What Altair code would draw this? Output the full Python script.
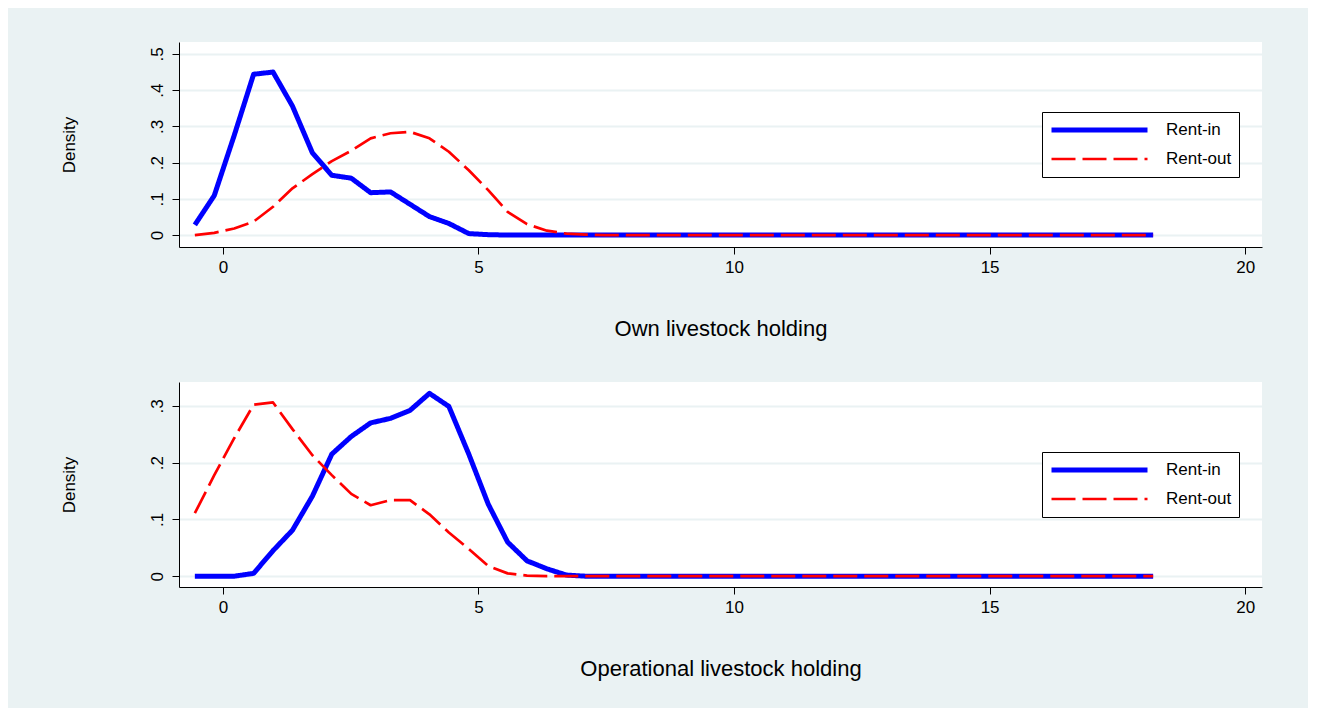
import altair as alt
import pandas as pd

# kernel-density evaluation grid (50 points)
x_grid = [-0.55, -0.17, 0.22, 0.60, 0.98, 1.36, 1.75, 2.13, 2.51, 2.89,
          3.28, 3.66, 4.04, 4.42, 4.81, 5.19, 5.57, 5.95, 6.34, 6.72,
          7.10, 7.49, 7.87, 8.25, 8.63, 9.02, 9.40, 9.78, 10.16, 10.55,
          10.93, 11.31, 11.70, 12.08, 12.46, 12.84, 13.23, 13.61, 13.99, 14.37,
          14.76, 15.14, 15.52, 15.91, 16.29, 16.67, 17.05, 17.44, 17.82, 18.20]

# Own livestock holding
own_rent_in = [0.028, 0.109, 0.275, 0.444, 0.450, 0.356, 0.227, 0.165, 0.157, 0.117,
               0.119, 0.085, 0.051, 0.032, 0.004, 0.001, 0.0, 0.0, 0.0, 0.0,
               0.0, 0.0, 0.0, 0.0, 0.0, 0.0, 0.0, 0.0, 0.0, 0.0,
               0.0, 0.0, 0.0, 0.0, 0.0, 0.0, 0.0, 0.0, 0.0, 0.0,
               0.0, 0.0, 0.0, 0.0, 0.0, 0.0, 0.0, 0.0, 0.0, 0.0]
own_rent_out = [0.000, 0.006, 0.018, 0.037, 0.078, 0.129, 0.168, 0.204, 0.233, 0.267,
                0.281, 0.285, 0.267, 0.230, 0.179, 0.124, 0.064, 0.030, 0.012, 0.004,
                0.001, 0.0, 0.0, 0.0, 0.0, 0.0, 0.0, 0.0, 0.0, 0.0,
                0.0, 0.0, 0.0, 0.0, 0.0, 0.0, 0.0, 0.0, 0.0, 0.0,
                0.0, 0.0, 0.0, 0.0, 0.0, 0.0, 0.0, 0.0, 0.0, 0.0]

# Operational livestock holding
op_rent_in = [0.0, 0.0, 0.0, 0.005, 0.045, 0.081, 0.141, 0.215, 0.246, 0.270,
              0.278, 0.292, 0.322, 0.299, 0.215, 0.127, 0.060, 0.027, 0.013, 0.002,
              0.0, 0.0, 0.0, 0.0, 0.0, 0.0, 0.0, 0.0, 0.0, 0.0,
              0.0, 0.0, 0.0, 0.0, 0.0, 0.0, 0.0, 0.0, 0.0, 0.0,
              0.0, 0.0, 0.0, 0.0, 0.0, 0.0, 0.0, 0.0, 0.0, 0.0]
op_rent_out = [0.111, 0.178, 0.243, 0.302, 0.306, 0.259, 0.213, 0.178, 0.145, 0.125,
               0.134, 0.134, 0.109, 0.077, 0.048, 0.018, 0.005, 0.001, 0.0, 0.0,
               0.0, 0.0, 0.0, 0.0, 0.0, 0.0, 0.0, 0.0, 0.0, 0.0,
               0.0, 0.0, 0.0, 0.0, 0.0, 0.0, 0.0, 0.0, 0.0, 0.0,
               0.0, 0.0, 0.0, 0.0, 0.0, 0.0, 0.0, 0.0, 0.0, 0.0]

series_names = ["Rent-in", "Rent-out"]
series_colors = ["#0000FF", "#FF0000"]
x_ticks = [0, 5, 10, 15, 20]
top_y_ticks = [0, 0.1, 0.2, 0.3, 0.4, 0.5]
bottom_y_ticks = [0, 0.1, 0.2, 0.3]

FONT = "Liberation Sans"
BG = "#EAF2F3"


def make_df(a, b):
    rows = []
    for xv, v in zip(x_grid, a):
        rows.append({"x": xv, "density": v, "series": series_names[0]})
    for xv, v in zip(x_grid, b):
        rows.append({"x": xv, "density": v, "series": series_names[1]})
    return pd.DataFrame(rows)


def panel(df, xtitle, yticks, ydomain):
    leg = alt.Legend(
        title=None, orient="none", legendX=863, legendY=70,
        symbolType="stroke", symbolSize=9216, clipHeight=22, rowPadding=7,
        padding=7, strokeColor="#000000", fillColor="#FFFFFF", cornerRadius=0,
        labelOffset=16, labelFont=FONT, labelFontSize=17, labelColor="#000000",
        labelExpr="datum.label + '\u00a0\u00a0\u00a0'",
    )
    return alt.Chart(df).mark_line(strokeJoin="round").encode(
        x=alt.X("x:Q",
                scale=alt.Scale(domain=[-0.86, 20.33], nice=False, zero=False),
                axis=alt.Axis(values=x_ticks, title=xtitle, grid=False,
                              labelPadding=5, titlePadding=43,
                              titleFontSize=22)),
        y=alt.Y("density:Q",
                scale=alt.Scale(domain=ydomain, nice=False, zero=False),
                axis=alt.Axis(values=yticks, title="Density", grid=True,
                              labelAngle=270, labelAlign="center", labelBaseline="bottom",
                              labelPadding=6, titlePadding=70, titleFontSize=17,
                              labelExpr="datum.value == 0 ? '0' : replace(format(datum.value, '.1f'), '0.', '.')")),
        color=alt.Color("series:N",
                        scale=alt.Scale(domain=series_names, range=series_colors),
                        legend=leg),
        strokeDash=alt.StrokeDash("series:N",
                                  scale=alt.Scale(domain=series_names, range=[[1, 0], [24, 7]]),
                                  legend=leg),
        strokeWidth=alt.StrokeWidth("series:N",
                                    scale=alt.Scale(domain=series_names, range=[5, 2.7]),
                                    legend=leg),
    ).properties(width=1083, height=205)


top = panel(make_df(own_rent_in, own_rent_out), "Own livestock holding",
            top_y_ticks, [-0.033, 0.533])
bottom = panel(make_df(op_rent_in, op_rent_out), "Operational livestock holding",
               bottom_y_ticks, [-0.019, 0.342])

chart = alt.vconcat(top, bottom, spacing=43).resolve_legend(
    color="independent", strokeDash="independent", strokeWidth="independent"
).resolve_scale(
    color="independent", strokeDash="independent", strokeWidth="independent"
).properties(
    background=BG,
    padding={"left": 52, "top": 34, "right": 46, "bottom": 29},
).configure_view(
    fill="#FFFFFF", stroke=None
).configure_axis(
    domainColor="#000000", tickColor="#000000", tickSize=7, domainWidth=1,
    labelFont=FONT, labelFontSize=17, labelColor="#000000",
    titleFont=FONT, titleFontWeight="normal", titleColor="#000000",
    gridColor=BG, gridWidth=2,
)

chart.save("out.html", embed_options={"renderer": "svg", "actions": False})
